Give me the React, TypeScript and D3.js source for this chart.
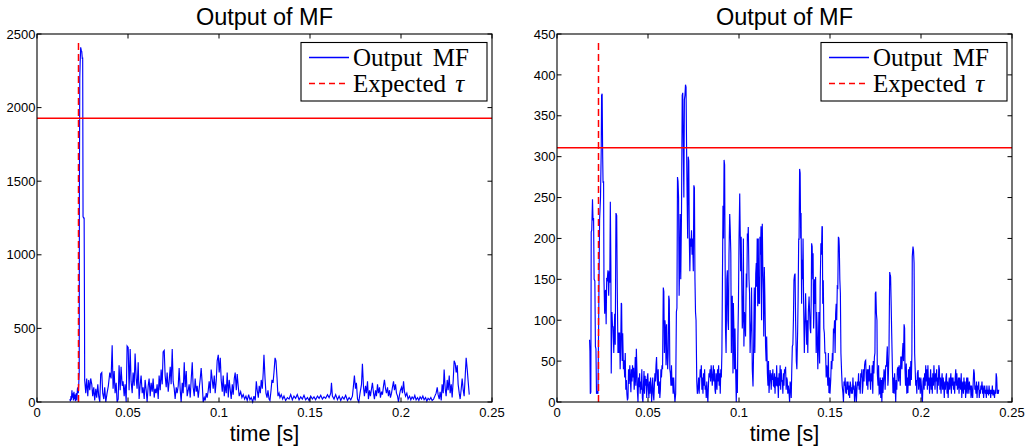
import React from "react";
import * as d3 from "d3";

type Pt = [number, number];

const xTicks = [0, 0.05, 0.1, 0.15, 0.2, 0.25];
const xTickLabels = ["0", "0.05", "0.1", "0.15", "0.2", "0.25"];
const leftYTicks = [0, 500, 1000, 1500, 2000, 2500];
const rightYTicks = [0, 50, 100, 150, 200, 250, 300, 350, 400, 450];
const leftThreshold = 1928;
const rightThreshold = 311;
const expectedTau = 0.0228;
const leftTauTop = 2450;
const rightTauTop = 440;
const titleText = "Output of MF";
const xLabelText = "time [s]";
const legendLabels = ["Output MF", "Expected "];

const leftSignal: Pt[] = [
  [0.018, 20], [0.0184, 5], [0.0187, 40], [0.0189, 15], [0.0192, 80], [0.0194, 30], [0.0197, 60], [0.02, 10],
  [0.0203, 70], [0.0206, 20], [0.0209, 50], [0.0211, 5], [0.0214, 40], [0.0216, 60], [0.0219, 10], [0.0222, 90],
  [0.0224, 100], [0.0227, 60], [0.0229, 110], [0.0232, 200], [0.0233, 1415], [0.0235, 2200], [0.0237, 2300],
  [0.024, 2410], [0.0243, 2390], [0.0246, 2380], [0.0249, 2330], [0.0251, 2340], [0.0253, 1260], [0.0256, 1250],
  [0.0259, 1250], [0.0261, 600], [0.0262, 150], [0.0268, 60], [0.0273, 160], [0.0279, 40], [0.0284, 150],
  [0.029, 80], [0.0295, 160], [0.0301, 120], [0.0306, 40], [0.0312, 100], [0.0317, 10], [0.0323, 90], [0.0328, 30],
  [0.0334, 120], [0.0339, 40], [0.0345, 0], [0.035, 190], [0.0356, 200], [0.0361, 60], [0.0367, 20], [0.0372, 100],
  [0.0378, 0], [0.0385, 60], [0.0392, 110], [0.04, 200], [0.0407, 160], [0.0413, 385], [0.0418, 90], [0.0424, 210],
  [0.0429, 60], [0.0435, 130], [0.044, 0], [0.0446, 20], [0.0451, 250], [0.0457, 80], [0.0462, 240], [0.0468, 110],
  [0.0473, 140], [0.0479, 40], [0.0484, 120], [0.049, 0], [0.0495, 380], [0.0501, 370], [0.0506, 80], [0.0512, 360],
  [0.0517, 140], [0.0523, 60], [0.0528, 200], [0.0534, 110], [0.0539, 330], [0.0545, 160], [0.055, 90],
  [0.0556, 270], [0.0561, 20], [0.0567, 120], [0.0572, 180], [0.0578, 60], [0.0583, 100], [0.0589, 20],
  [0.0594, 150], [0.06, 80], [0.0605, 0], [0.0611, 110], [0.0616, 160], [0.0622, 40], [0.0627, 130], [0.0633, 70],
  [0.0638, 160], [0.0644, 30], [0.0649, 90], [0.0655, 60], [0.066, 120], [0.0666, 20], [0.0671, 180], [0.0677, 80],
  [0.0682, 220], [0.0688, 120], [0.0693, 340], [0.0699, 350], [0.0704, 180], [0.071, 100], [0.0715, 200],
  [0.0721, 70], [0.0726, 140], [0.0732, 240], [0.0737, 120], [0.0743, 360], [0.0748, 140], [0.0754, 90],
  [0.0759, 20], [0.0765, 100], [0.077, 60], [0.0776, 110], [0.0781, 230], [0.0787, 80], [0.0792, 0], [0.0798, 130],
  [0.0803, 60], [0.0809, 270], [0.0814, 100], [0.082, 210], [0.0825, 40], [0.0831, 80], [0.0836, 120], [0.0842, 30],
  [0.0847, 150], [0.0853, 270], [0.0858, 100], [0.0864, 40], [0.0869, 160], [0.0875, 70], [0.088, 110],
  [0.0886, 30], [0.0891, 90], [0.0897, 160], [0.0902, 230], [0.0908, 120], [0.0913, 0], [0.0919, 30], [0.0924, 10],
  [0.093, 60], [0.0935, 30], [0.0941, 80], [0.0946, 140], [0.0952, 60], [0.0957, 220], [0.0963, 150], [0.0968, 90],
  [0.0974, 180], [0.0979, 60], [0.0985, 150], [0.099, 280], [0.0996, 320], [0.1001, 200], [0.1007, 300],
  [0.1012, 150], [0.1018, 70], [0.1023, 180], [0.1029, 40], [0.1034, 120], [0.104, 60], [0.1045, 200], [0.1051, 30],
  [0.1056, 150], [0.1062, 80], [0.1067, 20], [0.1073, 120], [0.1078, 50], [0.1084, 160], [0.1089, 200], [0.1095, 80],
  [0.11, 190], [0.1106, 100], [0.1111, 40], [0.1119, 70], [0.1126, 30], [0.1133, 50], [0.1141, 20], [0.1148, 40],
  [0.1155, 10], [0.1163, 50], [0.117, 15], [0.1177, 30], [0.1185, 0], [0.1192, 40], [0.1199, 10], [0.1205, 140],
  [0.121, 80], [0.1216, 30], [0.1221, 110], [0.1227, 60], [0.1232, 150], [0.1238, 90], [0.1243, 200], [0.1247, 320],
  [0.1253, 160], [0.1258, 60], [0.1264, 30], [0.1269, 80], [0.1275, 20], [0.128, 10], [0.1286, 80], [0.1291, 150],
  [0.1297, 130], [0.1302, 200], [0.1308, 300], [0.1313, 280], [0.1319, 160], [0.1324, 40], [0.133, 60],
  [0.1335, 30], [0.1342, 50], [0.135, 20], [0.1357, 40], [0.1366, 10], [0.1376, 30], [0.1385, 20], [0.1394, 50],
  [0.1403, 15], [0.1412, 40], [0.1421, 25], [0.143, 50], [0.144, 15], [0.1449, 35], [0.1458, 20], [0.1467, 45],
  [0.1476, 15], [0.1486, 30], [0.1495, 10], [0.1504, 40], [0.1513, 20], [0.1522, 35], [0.1531, 15], [0.1541, 40],
  [0.155, 25], [0.1559, 45], [0.1568, 20], [0.1577, 35], [0.1586, 25], [0.1596, 50], [0.1605, 30], [0.1614, 60],
  [0.1618, 130], [0.1623, 40], [0.1632, 20], [0.1641, 50], [0.1651, 15], [0.166, 40], [0.1669, 10], [0.1678, 35],
  [0.1687, 20], [0.1696, 45], [0.1706, 10], [0.1715, 30], [0.1724, 15], [0.1733, 40], [0.1738, 100], [0.1744, 180],
  [0.175, 90], [0.1755, 130], [0.1761, 20], [0.1768, 0], [0.1775, 60], [0.1783, 120], [0.1788, 260], [0.1794, 100],
  [0.1799, 40], [0.1805, 110], [0.181, 60], [0.1816, 140], [0.1821, 20], [0.1827, 80], [0.1832, 40], [0.1838, 90],
  [0.1843, 130], [0.1849, 60], [0.1854, 20], [0.186, 80], [0.1865, 40], [0.1871, 120], [0.1876, 60], [0.1882, 100],
  [0.1887, 30], [0.1893, 70], [0.1898, 50], [0.1904, 110], [0.1909, 150], [0.1915, 90], [0.192, 60], [0.1926, 100],
  [0.1931, 40], [0.1937, 80], [0.1942, 30], [0.1948, 60], [0.1953, 100], [0.1959, 140], [0.1964, 80], [0.197, 120],
  [0.1975, 60], [0.1981, 40], [0.1986, 0], [0.1992, 50], [0.1997, 80], [0.2003, 100], [0.2008, 60], [0.2014, 140],
  [0.2019, 70], [0.2025, 40], [0.2032, 60], [0.2039, 20], [0.2047, 40], [0.2054, 15], [0.2061, 35], [0.2069, 20],
  [0.2076, 45], [0.2083, 15], [0.2091, 30], [0.2098, 10], [0.2105, 35], [0.2113, 20], [0.212, 40], [0.2127, 15],
  [0.2135, 30], [0.2142, 5], [0.2149, 25], [0.2157, 15], [0.2164, 30], [0.2171, 10], [0.2179, 20], [0.2186, 40],
  [0.2193, 60], [0.2199, 100], [0.2204, 50], [0.221, 20], [0.2215, 70], [0.2221, 10], [0.2226, 120], [0.2232, 60],
  [0.2237, 220], [0.2243, 90], [0.2248, 40], [0.2254, 150], [0.2259, 80], [0.2265, 180], [0.227, 60], [0.2276, 120],
  [0.2281, 30], [0.2287, 150], [0.2292, 280], [0.2298, 260], [0.2303, 200], [0.2309, 250], [0.2314, 120],
  [0.232, 60], [0.2325, 20], [0.2331, 90], [0.2336, 160], [0.2342, 80], [0.2347, 40], [0.2353, 180], [0.2358, 300],
  [0.2364, 220], [0.2369, 140], [0.2375, 50],
];

const rightSignal: Pt[] = [
  [0.0179, 76], [0.0181, 62], [0.0183, 10], [0.0186, 12], [0.0188, 208], [0.0191, 210], [0.0195, 248], [0.0198, 222],
  [0.0201, 225], [0.0204, 150], [0.0208, 148], [0.0211, 68], [0.0214, 65], [0.0217, 10], [0.0221, 12], [0.0225, 10],
  [0.0229, 100], [0.0234, 222], [0.0239, 250], [0.0243, 308], [0.0245, 375], [0.0248, 377], [0.0251, 300],
  [0.0253, 268], [0.0256, 270], [0.0258, 150], [0.0262, 108], [0.0265, 135], [0.0267, 137], [0.027, 95],
  [0.0273, 150], [0.0276, 149], [0.028, 161], [0.0284, 130], [0.0287, 160], [0.029, 146], [0.0293, 245],
  [0.0296, 165], [0.0298, 35], [0.0302, 110], [0.0305, 92], [0.0308, 92], [0.0312, 60], [0.0317, 108], [0.032, 70],
  [0.0324, 231], [0.0328, 228], [0.0331, 141], [0.0335, 60], [0.0338, 85], [0.0341, 60], [0.0344, 85], [0.0347, 40],
  [0.035, 68], [0.0353, 121], [0.0355, 120], [0.0358, 50], [0.0361, 84], [0.0365, 40], [0.0368, 51], [0.0372, 30],
  [0.0375, 60], [0.0378, 15], [0.0381, 27], [0.0384, 10], [0.0387, 2], [0.039, 5], [0.0393, 40], [0.0396, 22],
  [0.04, 45], [0.0403, 28], [0.0406, 12], [0.0409, 40], [0.0412, 25], [0.0415, 45], [0.0418, 30], [0.0421, 42],
  [0.0424, 15], [0.0427, 28], [0.043, 55], [0.0433, 20], [0.0436, 65], [0.0439, 40], [0.0442, 12], [0.0445, 0],
  [0.0448, 30], [0.0451, 18], [0.0454, 35], [0.0457, 10], [0.046, 25], [0.0463, 15], [0.0466, 40], [0.0469, 5],
  [0.0472, 0], [0.0475, 20], [0.0478, 38], [0.0481, 10], [0.0484, 32], [0.0487, 20], [0.049, 28], [0.0493, 5],
  [0.0496, 30], [0.0499, 35], [0.0502, 15], [0.0505, 5], [0.0508, 25], [0.0511, 10], [0.0514, 30], [0.0517, 20],
  [0.052, 0], [0.0523, 15], [0.0526, 30], [0.0529, 10], [0.0532, 2], [0.0535, 20], [0.0538, 35], [0.0541, 25],
  [0.0544, 45], [0.0547, 55], [0.055, 30], [0.0553, 20], [0.0556, 40], [0.0559, 10], [0.0562, 25], [0.0565, 5],
  [0.0568, 15], [0.0571, 40], [0.0574, 30], [0.0577, 45], [0.058, 40], [0.0584, 140], [0.0587, 135], [0.059, 60],
  [0.0593, 100], [0.0596, 90], [0.0599, 45], [0.0602, 95], [0.0605, 60], [0.0608, 40], [0.0611, 60], [0.0614, 130],
  [0.0617, 125], [0.062, 40], [0.0623, 35], [0.0626, 20], [0.0629, 45], [0.0632, 20], [0.0635, 30], [0.0638, 10],
  [0.0641, 30], [0.0644, 15], [0.0648, 0], [0.0652, 10], [0.0656, 110], [0.0659, 115], [0.0662, 275], [0.0665, 270],
  [0.0668, 250], [0.0671, 130], [0.0674, 170], [0.0677, 230], [0.068, 150], [0.0684, 230], [0.0688, 375],
  [0.0691, 378], [0.0694, 310], [0.0697, 250], [0.07, 370], [0.0703, 375], [0.0706, 388], [0.0709, 385],
  [0.0712, 310], [0.0715, 250], [0.0718, 200], [0.0721, 300], [0.0724, 295], [0.0727, 200], [0.073, 160],
  [0.0733, 200], [0.0736, 190], [0.0739, 210], [0.0742, 180], [0.0745, 200], [0.0749, 160], [0.0752, 265],
  [0.0755, 262], [0.0758, 150], [0.0761, 110], [0.0764, 100], [0.0768, 25], [0.0771, 10], [0.0775, 18], [0.0778, 30],
  [0.0781, 10], [0.0784, 25], [0.0787, 40], [0.079, 30], [0.0793, 45], [0.0796, 15], [0.0799, 30], [0.0802, 10],
  [0.0805, 35], [0.0808, 20], [0.0811, 40], [0.0814, 15], [0.0817, 20], [0.082, 5], [0.0823, 25], [0.0826, 10],
  [0.0829, 0], [0.0832, 20], [0.0835, 35], [0.0838, 30], [0.0841, 40], [0.0844, 25], [0.0847, 45], [0.085, 35],
  [0.0853, 20], [0.0856, 30], [0.0859, 45], [0.0862, 25], [0.0865, 40], [0.0868, 15], [0.0871, 10], [0.0874, 35],
  [0.0876, 30], [0.0879, 15], [0.0882, 40], [0.0885, 25], [0.0888, 45], [0.0891, 20], [0.0894, 35], [0.0897, 10],
  [0.09, 40], [0.0903, 30], [0.0906, 60], [0.0909, 150], [0.0912, 240], [0.0915, 200], [0.0918, 296], [0.0921, 290],
  [0.0923, 200], [0.0926, 88], [0.0929, 60], [0.0933, 150], [0.0936, 161], [0.0939, 100], [0.0942, 88],
  [0.0945, 180], [0.0949, 230], [0.0952, 210], [0.0955, 182], [0.0958, 60], [0.096, 117], [0.0963, 130],
  [0.0967, 35], [0.0969, 121], [0.0972, 90], [0.0975, 40], [0.0978, 90], [0.0982, 35], [0.0985, 0], [0.0988, 40],
  [0.0991, 11], [0.0994, 80], [0.0997, 120], [0.1, 198], [0.1004, 255], [0.1007, 200], [0.1009, 160], [0.1012, 202],
  [0.1015, 149], [0.1018, 90], [0.1022, 108], [0.1024, 200], [0.1027, 68], [0.103, 110], [0.1033, 100], [0.1036, 80],
  [0.104, 157], [0.1043, 140], [0.1046, 206], [0.1049, 200], [0.1051, 214], [0.1055, 150], [0.1058, 133],
  [0.1061, 60], [0.1064, 84], [0.1067, 100], [0.1069, 140], [0.1073, 40], [0.1077, 19], [0.108, 60], [0.1084, 140],
  [0.1087, 60], [0.1089, 100], [0.1092, 157], [0.1095, 170], [0.1097, 141], [0.11, 200], [0.1103, 117],
  [0.1106, 200], [0.1108, 120], [0.111, 153], [0.1113, 120], [0.1115, 202], [0.1118, 180], [0.1121, 215],
  [0.1124, 100], [0.1126, 190], [0.1128, 218], [0.1131, 160], [0.1134, 133], [0.1136, 80], [0.1139, 165],
  [0.1142, 130], [0.1146, 68], [0.1149, 50], [0.1152, 80], [0.1156, 35], [0.1159, 20], [0.1162, 50], [0.1165, 11],
  [0.1168, 25], [0.1171, 39], [0.1174, 30], [0.1177, 15], [0.118, 35], [0.1183, 27], [0.1186, 40], [0.1189, 20],
  [0.1192, 19], [0.1195, 35], [0.1198, 10], [0.1201, 31], [0.1204, 20], [0.1207, 45], [0.121, 19], [0.1213, 30],
  [0.1216, 5], [0.122, 35], [0.1223, 20], [0.1226, 45], [0.1229, 15], [0.1232, 40], [0.1235, 25], [0.1238, 27],
  [0.1241, 10], [0.1244, 35], [0.1247, 20], [0.125, 40], [0.1253, 35], [0.1256, 43], [0.1259, 15], [0.1262, 30],
  [0.1265, 27], [0.1268, 10], [0.1271, 20], [0.1275, 11], [0.1278, 0], [0.1281, 25], [0.1284, 19], [0.1287, 5],
  [0.129, 40], [0.1293, 68], [0.1296, 70], [0.1299, 100], [0.1302, 149], [0.1305, 155], [0.1308, 157],
  [0.1311, 100], [0.1315, 50], [0.1318, 40], [0.1322, 84], [0.1325, 130], [0.1328, 200], [0.133, 198],
  [0.1333, 285], [0.1336, 280], [0.1339, 200], [0.1341, 231], [0.1344, 120], [0.1346, 174], [0.1349, 150],
  [0.1352, 200], [0.1355, 120], [0.1359, 60], [0.1362, 90], [0.1366, 133], [0.1369, 100], [0.1372, 70],
  [0.1375, 100], [0.1378, 60], [0.1381, 110], [0.1385, 129], [0.1388, 110], [0.1391, 90], [0.1394, 84],
  [0.1397, 130], [0.1399, 194], [0.1402, 190], [0.1405, 150], [0.1407, 182], [0.141, 90], [0.1412, 108],
  [0.1415, 150], [0.1418, 120], [0.1421, 153], [0.1424, 60], [0.1427, 110], [0.143, 84], [0.1433, 40], [0.1436, 68],
  [0.1439, 110], [0.1443, 47], [0.1446, 140], [0.145, 194], [0.1453, 180], [0.1456, 215], [0.1458, 214],
  [0.146, 120], [0.1463, 149], [0.1466, 90], [0.1469, 84], [0.1472, 60], [0.1476, 60], [0.1479, 30], [0.1482, 45],
  [0.1485, 39], [0.1488, 20], [0.1491, 60], [0.1494, 11], [0.1497, 30], [0.15, 10], [0.1504, 27], [0.1507, 50],
  [0.151, 40], [0.1513, 60], [0.1516, 50], [0.1519, 90], [0.1522, 84], [0.1525, 100], [0.1528, 60], [0.1531, 108],
  [0.1534, 120], [0.1537, 100], [0.154, 141], [0.1543, 140], [0.1546, 202], [0.1549, 200], [0.1551, 190],
  [0.1554, 150], [0.1557, 133], [0.156, 60], [0.1564, 35], [0.1567, 20], [0.1571, 11], [0.1574, 0], [0.1577, 25],
  [0.158, 20], [0.1583, 30], [0.1586, 12], [0.159, 10], [0.1593, 25], [0.1596, 15], [0.1599, 25], [0.1602, 8],
  [0.1605, 20], [0.1608, 5], [0.1611, 25], [0.1614, 20], [0.1617, 10], [0.162, 18], [0.1623, 10], [0.1626, 30],
  [0.1629, 15], [0.1632, 20], [0.1635, 0], [0.1638, 10], [0.1641, 25], [0.1645, 0], [0.1648, 15], [0.1651, 25],
  [0.1654, 20], [0.1657, 35], [0.166, 15], [0.1663, 25], [0.1666, 10], [0.1669, 35], [0.1672, 30], [0.1675, 40],
  [0.1678, 10], [0.1681, 20], [0.1684, 40], [0.1687, 25], [0.169, 45], [0.1693, 50], [0.1696, 51], [0.1699, 30],
  [0.1702, 20], [0.1705, 40], [0.1708, 15], [0.1711, 40], [0.1714, 25], [0.1717, 45], [0.172, 30], [0.1723, 15],
  [0.1726, 35], [0.1729, 25], [0.1732, 45], [0.1735, 10], [0.1738, 50], [0.1741, 35], [0.1744, 55], [0.1747, 60],
  [0.1749, 133], [0.1752, 135], [0.1755, 108], [0.1758, 100], [0.176, 35], [0.1764, 20], [0.1767, 45], [0.177, 10],
  [0.1773, 11], [0.1776, 30], [0.1779, 5], [0.1782, 27], [0.1785, 0], [0.1788, 30], [0.1791, 11], [0.1794, 25],
  [0.1797, 40], [0.18, 35], [0.1803, 15], [0.1806, 45], [0.181, 43], [0.1813, 60], [0.1815, 68], [0.1818, 20],
  [0.182, 27], [0.1824, 60], [0.1828, 159], [0.1831, 155], [0.1833, 153], [0.1836, 120], [0.1839, 84], [0.1842, 50],
  [0.1846, 11], [0.1849, 30], [0.1852, 10], [0.1855, 35], [0.1858, 20], [0.1861, 0], [0.1864, 27], [0.1867, 15],
  [0.187, 40], [0.1874, 43], [0.1877, 25], [0.188, 45], [0.1883, 35], [0.1886, 20], [0.1889, 55], [0.1892, 55],
  [0.1895, 40], [0.1898, 60], [0.1901, 72], [0.1904, 50], [0.1907, 95], [0.191, 90], [0.1912, 40], [0.1915, 20],
  [0.1919, 47], [0.1922, 10], [0.1925, 30], [0.1928, 11], [0.1931, 40], [0.1934, 20], [0.1938, 43], [0.1941, 20],
  [0.1944, 50], [0.1947, 27], [0.195, 60], [0.1952, 178], [0.1956, 190], [0.1959, 185], [0.1962, 170], [0.1965, 60],
  [0.1968, 40], [0.1971, 20], [0.1974, 27], [0.1977, 10], [0.198, 35], [0.1984, 39], [0.1987, 15], [0.199, 30],
  [0.1993, 27], [0.1996, 10], [0.1999, 30], [0.2002, 20], [0.2005, 5], [0.2008, 0], [0.2011, 25], [0.2014, 30],
  [0.2017, 15], [0.202, 35], [0.2023, 20], [0.2026, 45], [0.2029, 25], [0.2032, 40], [0.2035, 15], [0.2038, 45],
  [0.2041, 20], [0.2044, 30], [0.2047, 10], [0.205, 25], [0.2053, 40], [0.2056, 15], [0.2059, 30], [0.2062, 10],
  [0.2065, 35], [0.2068, 20], [0.2071, 45], [0.2074, 30], [0.2077, 15], [0.208, 35], [0.2083, 25], [0.2086, 40],
  [0.2089, 10], [0.2092, 30], [0.2095, 20], [0.2098, 45], [0.2101, 40], [0.2104, 15], [0.2107, 30], [0.211, 10],
  [0.2113, 25], [0.2116, 35], [0.2119, 15], [0.2122, 30], [0.2125, 20], [0.2128, 5], [0.2131, 25], [0.2134, 15],
  [0.2137, 30], [0.214, 35], [0.2143, 10], [0.2146, 25], [0.2149, 5], [0.2152, 20], [0.2155, 30], [0.2158, 15],
  [0.2161, 25], [0.2164, 35], [0.2167, 10], [0.217, 30], [0.2173, 20], [0.2176, 30], [0.2179, 15], [0.2182, 25],
  [0.2185, 10], [0.2188, 30], [0.2191, 40], [0.2194, 20], [0.2197, 35], [0.22, 15], [0.2203, 20], [0.2206, 30],
  [0.2209, 10], [0.2212, 30], [0.2215, 20], [0.2218, 15], [0.2221, 35], [0.2224, 5], [0.2227, 20], [0.223, 25],
  [0.2233, 10], [0.2236, 30], [0.2239, 15], [0.2242, 25], [0.2245, 5], [0.2248, 15], [0.2251, 30], [0.2254, 10],
  [0.2257, 30], [0.226, 20], [0.2263, 10], [0.2266, 25], [0.2269, 15], [0.2272, 20], [0.2275, 5], [0.2278, 20],
  [0.2281, 10], [0.2284, 5], [0.2287, 25], [0.229, 40], [0.2293, 35], [0.2296, 15], [0.2299, 20], [0.2302, 10],
  [0.2305, 25], [0.2308, 5], [0.2311, 20], [0.2314, 15], [0.2317, 25], [0.232, 5], [0.2323, 15], [0.2326, 10],
  [0.2329, 20], [0.2332, 15], [0.2335, 25], [0.2338, 10], [0.2341, 20], [0.2344, 5], [0.2347, 15], [0.235, 20],
  [0.2353, 10], [0.2356, 15], [0.2359, 5], [0.2362, 20], [0.2365, 10], [0.2368, 15], [0.2371, 8], [0.2374, 20],
  [0.2377, 10], [0.238, 15], [0.2383, 5], [0.2386, 15], [0.2389, 10], [0.2392, 20], [0.2395, 8], [0.2398, 15],
  [0.2401, 10], [0.2404, 5], [0.2407, 15], [0.241, 10], [0.2413, 35], [0.2416, 30], [0.2419, 10], [0.2422, 15],
  [0.2425, 10], [0.2427, 15],
];

const SANS = "'Liberation Sans', Arial, Helvetica, sans-serif";
const SERIF = "'Liberation Serif', 'Times New Roman', serif";

type PanelProps = {
  left: number;
  data: Pt[];
  yMax: number;
  yTicks: number[];
  threshold: number;
  tauTop: number;
};

function Panel({ left, data, yMax, yTicks, threshold, tauTop }: PanelProps) {
  const top = 34;
  const bottom = 402;
  const width = 455;
  const right = left + width;
  const x = d3.scaleLinear().domain([0, 0.25]).range([left, right]);
  const y = d3.scaleLinear().domain([0, yMax]).range([bottom, top]);
  const line = d3
    .line<Pt>()
    .x((d) => x(d[0]))
    .y((d) => y(d[1]));
  const tick = 4.5;
  const legRight = right - 5;
  const legLeft = legRight - 186;
  const legTop = 42.5;
  const legBottom = 101;
  const cx = (left + right) / 2;
  return (
    <g>
      <path d={line(data) || ""} fill="none" stroke="#0000ff" strokeWidth={1.15} strokeLinejoin="miter" />
      <line
        x1={x(expectedTau)}
        x2={x(expectedTau)}
        y1={y(0)}
        y2={y(tauTop)}
        stroke="#ff0000"
        strokeWidth={1.5}
        strokeDasharray="7,4"
      />
      <line x1={left} x2={right} y1={y(threshold)} y2={y(threshold)} stroke="#ff0000" strokeWidth={1.5} />
      <rect x={left} y={top} width={width} height={bottom - top} fill="none" stroke="#000" strokeWidth={1.1} />
      {xTicks.map((t, i) => (
        <g key={"xt" + i}>
          <line x1={x(t)} x2={x(t)} y1={bottom} y2={bottom - tick} stroke="#000" />
          <line x1={x(t)} x2={x(t)} y1={top} y2={top + tick} stroke="#000" />
          <text x={x(t)} y={417} fontFamily={SANS} fontSize={13} textAnchor="middle" fill="#000">
            {xTickLabels[i]}
          </text>
        </g>
      ))}
      {yTicks.map((v, i) => (
        <g key={"yt" + i}>
          <line x1={left} x2={left + tick} y1={y(v)} y2={y(v)} stroke="#000" />
          <line x1={right} x2={right - tick} y1={y(v)} y2={y(v)} stroke="#000" />
          <text
            x={left - 1.5}
            y={y(v)}
            dy="0.36em"
            fontFamily={SANS}
            fontSize={13}
            textAnchor="end"
            fill="#000"
          >
            {String(v)}
          </text>
        </g>
      ))}
      <text x={cx} y={25} fontFamily={SANS} fontSize={23.5} textAnchor="middle" fill="#000">
        {titleText}
      </text>
      <text x={cx} y={441} fontFamily={SANS} fontSize={21.5} textAnchor="middle" fill="#000">
        {xLabelText}
      </text>
      <rect
        x={legLeft}
        y={legTop}
        width={legRight - legLeft}
        height={legBottom - legTop}
        fill="#fff"
        stroke="#000"
        strokeWidth={1.1}
      />
      <line x1={legLeft + 8} x2={legLeft + 48} y1={57.5} y2={57.5} stroke="#0000ff" strokeWidth={1.6} />
      <line
        x1={legLeft + 8}
        x2={legLeft + 48}
        y1={83.5}
        y2={83.5}
        stroke="#ff0000"
        strokeWidth={1.6}
        strokeDasharray="6,4"
      />
      <text x={legLeft + 52} y={65.5} fontFamily={SERIF} fontSize={25} fill="#000" wordSpacing={4}>
        {legendLabels[0]}
      </text>
      <text x={legLeft + 52} y={91.5} fontFamily={SERIF} fontSize={25} fill="#000" wordSpacing={3}>
        {legendLabels[1]}
        <tspan fontStyle="italic">τ</tspan>
      </text>
    </g>
  );
}

export default function App() {
  return (
    <svg
      width={1036}
      height={448}
      viewBox="0 0 1036 448"
      style={{ position: "absolute", left: 0, top: 0, background: "#fff" }}
    >
      <rect x={0} y={0} width={1036} height={448} fill="#fff" />
      <Panel left={37} data={leftSignal} yMax={2500} yTicks={leftYTicks} threshold={leftThreshold} tauTop={leftTauTop} />
      <Panel
        left={557}
        data={rightSignal}
        yMax={450}
        yTicks={rightYTicks}
        threshold={rightThreshold}
        tauTop={rightTauTop}
      />
    </svg>
  );
}
